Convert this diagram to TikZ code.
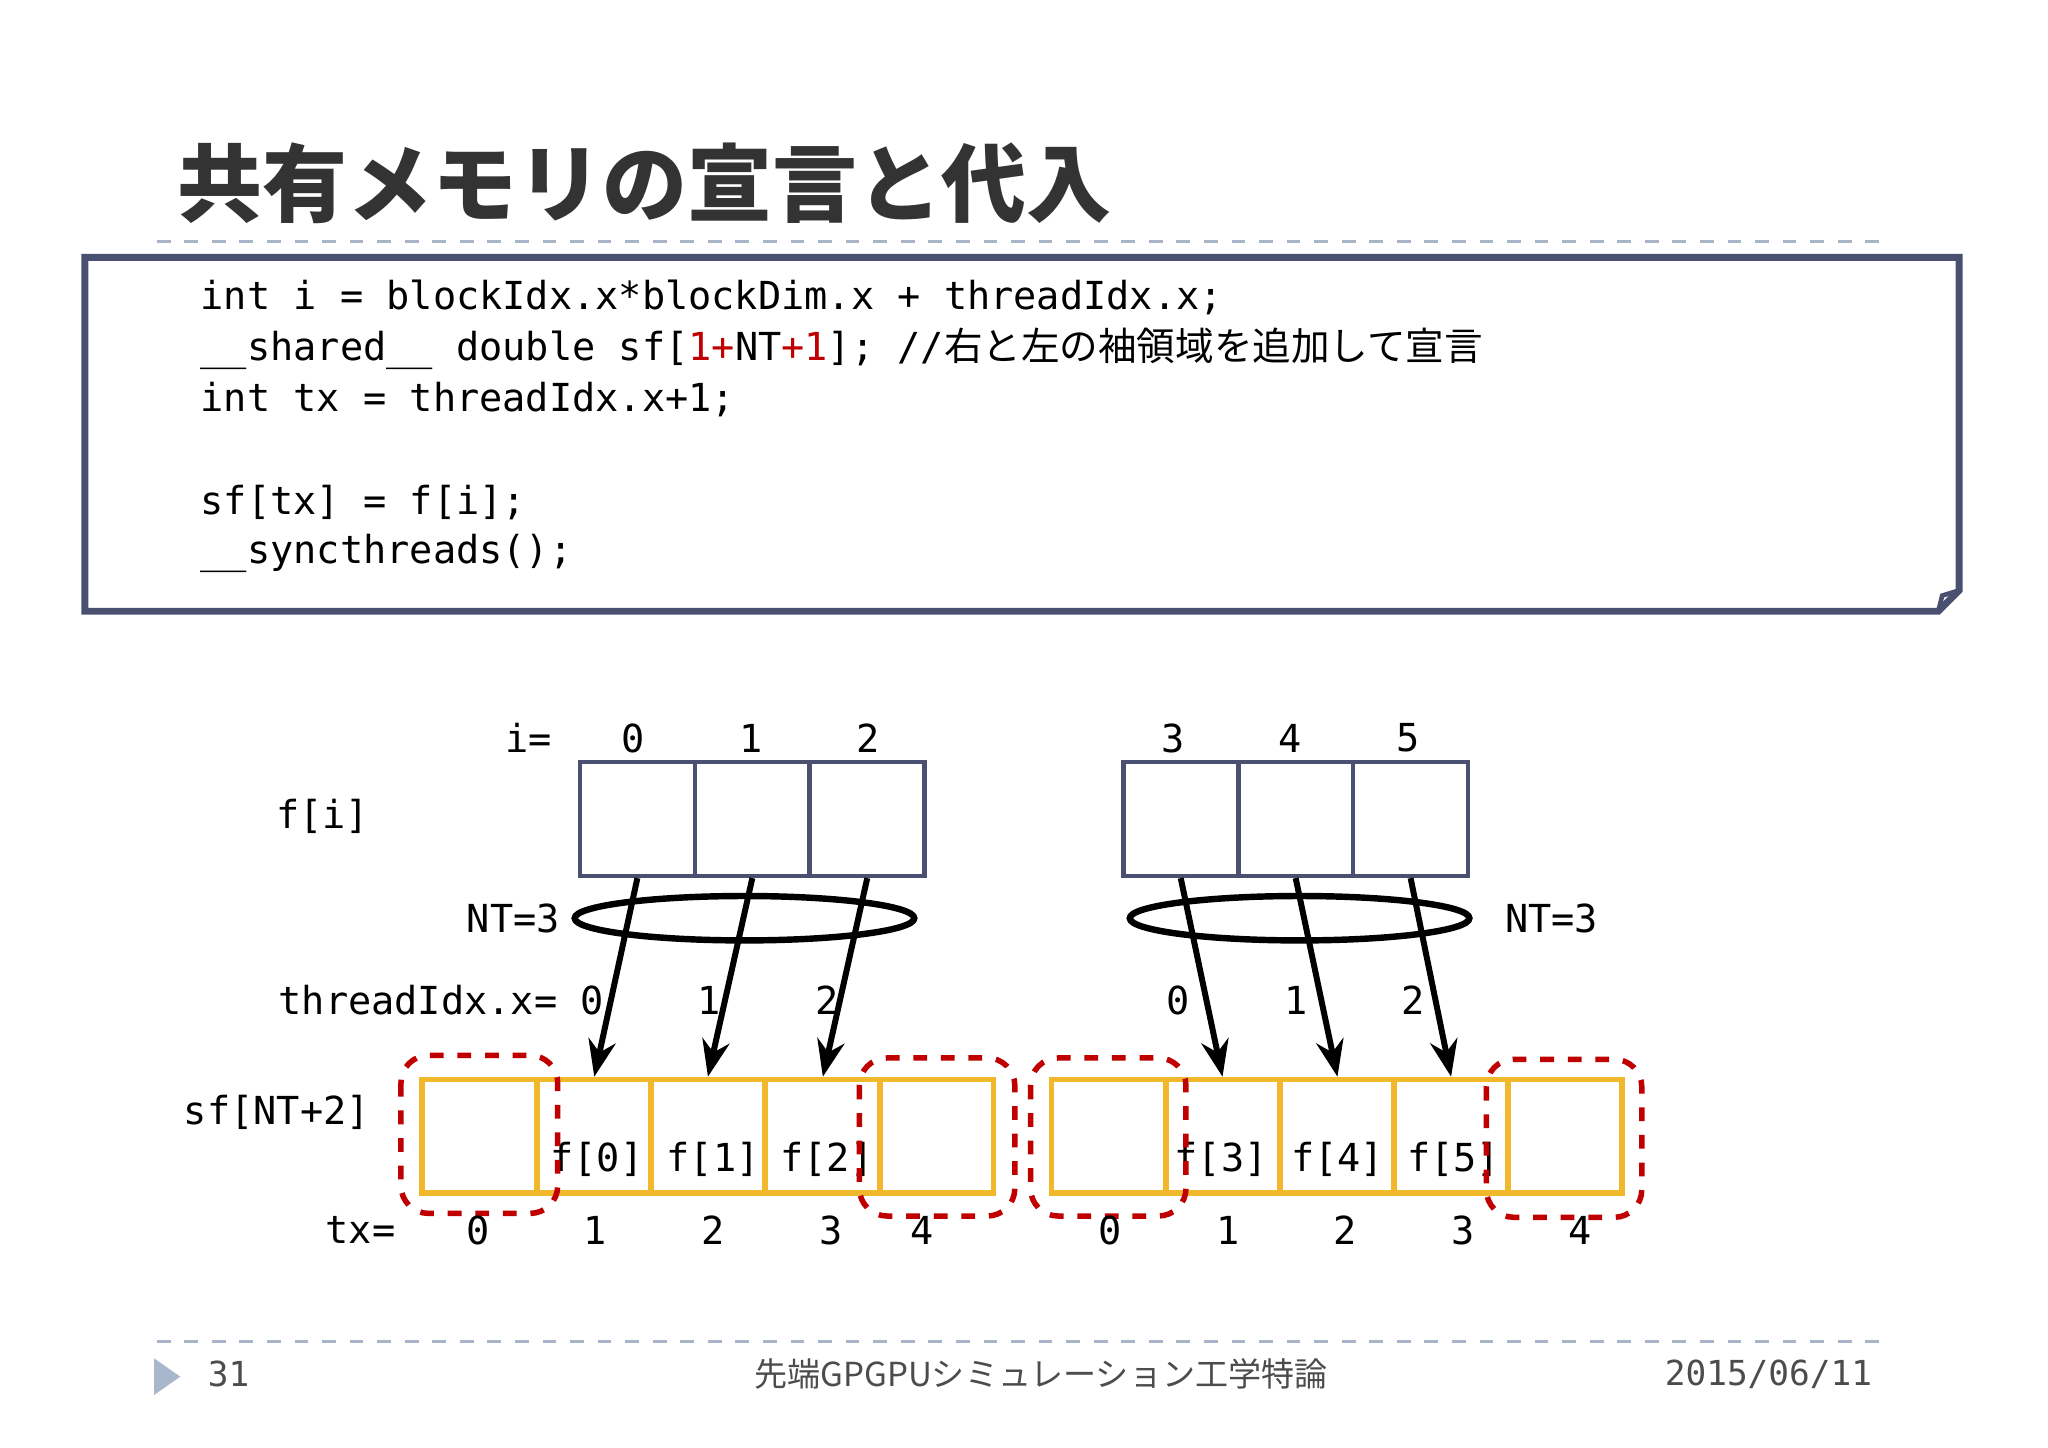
\documentclass[tikz,border=0pt]{standalone}
\usepackage{fontspec}
\setmonofont{DejaVu Sans Mono}
\newfontfamily\jp{Noto Sans CJK JP}
\usetikzlibrary{arrows.meta}
\definecolor{slate}{HTML}{4A5070}
\definecolor{dashc}{HTML}{A8B4C8}
\definecolor{ylw}{HTML}{F0B82A}
\definecolor{rd}{HTML}{C00000}
\definecolor{tri}{HTML}{A9B7CC}
\begin{document}
\begin{tikzpicture}[x=0.01cm,y=-0.01cm,
  code/.style={font=\fontsize{8.4}{10}\ttfamily,anchor=west,inner sep=0},
  lab/.style={font=\fontsize{8.4}{10}\ttfamily,inner sep=0},
  fbox/.style={draw=slate,line width=1pt,minimum width=0.88cm,minimum height=0.87cm,inner sep=0},
  ybox/.style={draw=ylw,line width=1.2pt,minimum width=0.875cm,minimum height=0.87cm,inner sep=0},
  halo/.style={draw=rd,dashed,line width=1.2pt,rounded corners=6pt},
  arr/.style={-{Stealth[length=8pt,width=6pt]},line width=1.3pt},
  foot/.style={font=\fontsize{7.2}{9}\jp,text=black!70,inner sep=0}]
\useasboundingbox (0,0) rectangle (1568,1108);
\fill[white] (0,0) rectangle (1568,1108);
% title
\node[font=\fontsize{18.5}{20}\jp\bfseries,text=black!80,anchor=west,inner sep=0] (title) at (135,140) {共有メモリの宣言と代入};
\draw[dashc,dashed,line width=0.8pt] (120,185) -- (1448,185);
% code box
\draw[slate,line width=1.5pt,fill=white] (65,197) -- (1500,197) -- (1500,452) -- (1484,468) -- (65,468) -- cycle;
\draw[slate,line width=1pt] (1500,452) -- (1487,456) -- (1484,468);
\node[code] (c1) at (153,228) {int i = blockIdx.x*blockDim.x + threadIdx.x;};
\node[code] (c2) at (153,267) {\_\_shared\_\_ double sf[\textcolor{rd}{1+}NT\textcolor{rd}{+1}]; //{\jp 右と左の袖領域を追加して宣言}};
\node[code] (c3) at (153,306) {int tx = threadIdx.x+1;};
\node[code] (c4) at (153,385) {sf[tx] = f[i];};
\node[code] (c5) at (153,424) {\_\_syncthreads();};
% top labels
\node[lab] (ieq) at (405,565) {i=};
\foreach \n/\x in {0/485,1/575,2/665,3/898,4/988,5/1078} \node[lab] (i\n) at (\x,565) {\n};
\node[lab] (fi) at (247,625) {f[i]};
\foreach \n/\x in {0/488,1/576,2/664,3/904,4/992,5/1080} \node[fbox] (f\n) at (\x,627) {};
% ellipses
\draw[black,line width=1.4pt] (570,703) ellipse (130 and 17);
\draw[black,line width=1.4pt] (995,703) ellipse (130 and 17);
\node[lab] (nt1) at (393,703) {NT=3};
\node[lab] (nt2) at (1188,703) {NT=3};
\node[lab] (tix) at (320,766) {threadIdx.x=};
\foreach \n/\x in {0/453,1/543,2/633,3/902,4/992,5/1082} {\pgfmathtruncatemacro\t{mod(\n,3)}\node[lab] (t\n) at (\x,766) {\t};}
\node[lab] (sfl) at (212,852) {sf[NT+2]};
% yellow boxes
\foreach \n/\x in {a0/367,a1/455,a2/542,a3/630,a4/717,b0/849,b1/936,b2/1024,b3/1111,b4/1198} \node[ybox] (s\n) at (\x,870) {};
% arrows
\draw[arr] (f0.south) -- (sa1.north);
\draw[arr] (f1.south) -- (sa2.north);
\draw[arr] (f2.south) -- (sa3.north);
\draw[arr] (f3.south) -- (sb1.north);
\draw[arr] (f4.south) -- (sb2.north);
\draw[arr] (f5.south) -- (sb3.north);
\foreach \n/\x in {0/457,1/546,2/633,3/935,4/1024,5/1113} \node[lab] (fl\n) at (\x,888) {f[\n]};
% halos
\draw[halo] (307,808) rectangle (427,929);
\draw[halo] (658,810) rectangle (777,931);
\draw[halo] (789,810) rectangle (908,931);
\draw[halo] (1138,811) rectangle (1257,932);
\node[lab] (txl) at (276,942) {tx=};
\foreach \n/\x in {0/366,1/456,2/546,3/636,4/706} \node[lab] (ta\n) at (\x,942) {\n};
\foreach \n/\x in {0/850,1/940,2/1030,3/1120,4/1210} \node[lab] (tb\n) at (\x,942) {\n};
% footer
\draw[dashc,dashed,line width=0.8pt] (120,1027) -- (1448,1027);
\fill[tri] (118,1040) -- (138,1054) -- (118,1068) -- cycle;
\node[foot,font=\fontsize{7.5}{9}\ttfamily] (pg) at (175,1052) {31};
\node[foot] (ct) at (797,1052) {先端GPGPUシミュレーション工学特論};
\node[foot,font=\fontsize{7.5}{9}\ttfamily] (dt) at (1354,1052) {2015/06/11};
\end{tikzpicture}
\end{document}
